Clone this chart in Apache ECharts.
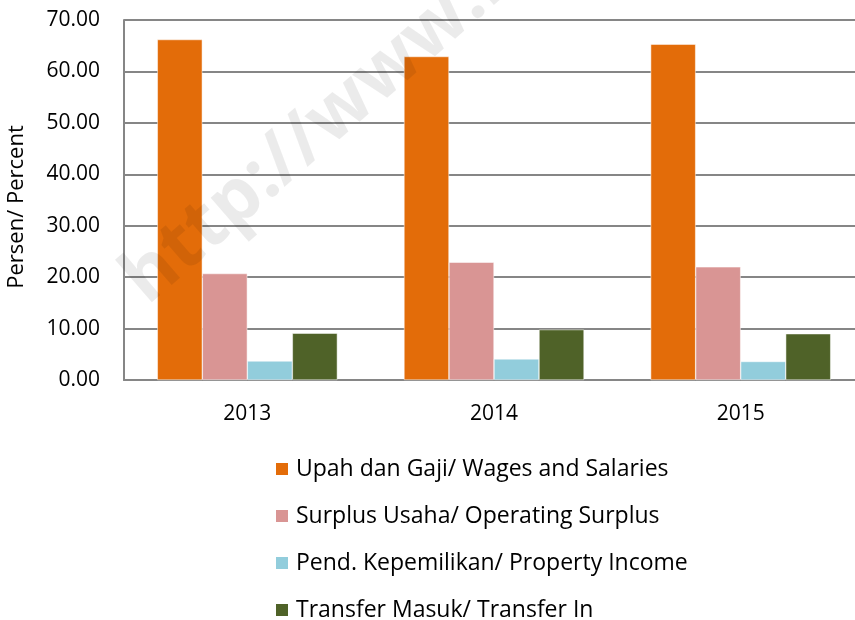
<!DOCTYPE html>
<html><head><meta charset="utf-8">
<script src="https://cdn.jsdelivr.net/npm/echarts@6/dist/echarts.min.js"></script>
<style>html,body{margin:0;padding:0;background:#fff}#c{width:855px;height:620px}</style>
</head><body><div id="c"></div>
<script>
const categories = ['2013', '2014', '2015'];
const seriesNames = ['Upah dan Gaji/ Wages and Salaries', 'Surplus Usaha/ Operating Surplus', 'Pend. Kepemilikan/ Property Income', 'Transfer Masuk/ Transfer In'];
const wages = [66.2, 62.9, 65.3];
const surplus = [20.7, 22.9, 22.0];
const property = [3.7, 4.1, 3.6];
const transfer = [9.1, 9.8, 9.0];
const colors = ['#E36C09', '#D99594', '#92CDDC', '#4F6228'];
const values = [wages, surplus, property, transfer];
const font = 'Open Sans';
const chart = echarts.init(document.getElementById('c'));
chart.setOption({
  animation: false,
  textStyle: { fontFamily: font },
  grid: { left: 124, right: -9, top: 20, bottom: 240, containLabel: false, outerBoundsMode: 'none' },
  xAxis: {
    type: 'category', data: categories,
    axisLine: { lineStyle: { color: '#868686', width: 2 } },
    axisTick: { show: false },
    axisLabel: { color: '#000', fontSize: 21, margin: 24, fontFamily: font }
  },
  yAxis: {
    type: 'value', min: 0, max: 70, interval: 10,
    name: 'Persen/ Percent', nameLocation: 'middle', nameGap: 96, nameRotate: 90,
    nameTextStyle: { color: '#000', fontSize: 22, fontFamily: font, padding: [0, 14, 0, 0] },
    axisLine: { show: true, lineStyle: { color: '#868686', width: 2 } },
    axisTick: { show: false },
    splitLine: { lineStyle: { color: '#868686', width: 2 } },
    axisLabel: { color: '#000', fontSize: 21, margin: 24, fontFamily: font, formatter: v => v.toFixed(2) }
  },
  legend: {
    orient: 'vertical', left: 274, top: 457, height: 200, itemGap: 23, padding: 0,
    itemWidth: 14, itemHeight: 14, icon: 'rect',
    textStyle: { color: '#000', fontSize: 23, lineHeight: 24, fontFamily: font, padding: [0, 0, 0, 2] },
    data: seriesNames
  },
  series: seriesNames.map((n, i) => ({
    name: n, type: 'bar', data: values[i],
    barGap: '0%', barCategoryGap: '27%',
    itemStyle: { color: colors[i], borderColor: '#fff', borderWidth: 0.5 },
    z: 2
  })),
  graphic: [{
    type: 'text', z: 100, silent: true,
    x: 158, y: 318, rotation: Math.PI * 41 / 180,
    style: { text: 'http://www.bps.go.id', font: 'bold 74px "Open Sans"', fill: 'rgba(0,0,0,0.08)', textVerticalAlign: 'bottom', textAlign: 'left' }
  }]
});
</script></body></html>
